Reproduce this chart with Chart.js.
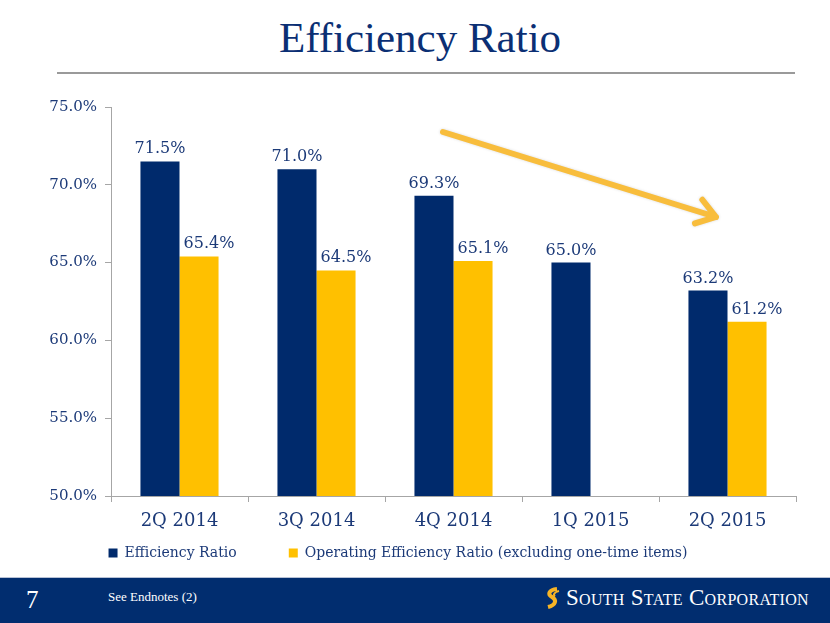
<!DOCTYPE html>
<html>
<head>
<meta charset="utf-8">
<script src="https://cdn.jsdelivr.net/npm/chart.js@4.4.0/dist/chart.umd.min.js"></script>
<style>
  body { margin: 0; width: 830px; height: 623px; background: #fff; position: relative; overflow: hidden; font-family: "DejaVu Serif", serif; }
  #title { position: absolute; top: 13px; left: 0; width: 840px; text-align: center; font-family: "Liberation Serif", serif; font-size: 43px; color: #0b2f74; }
  #rule { position: absolute; top: 72px; left: 57px; width: 738px; height: 2px; background: #9a9a9a; }
  #footer { position: absolute; top: 577px; left: 0; width: 830px; height: 46px; background: #012d6f; border-top: 1px solid #b8c2d6; }
  #pg { position: absolute; left: 26px; top: 8px; color: #fff; font-size: 25px; font-family: "Liberation Serif", serif; }
  #note { position: absolute; left: 108px; top: 11px; color: #fff; font-size: 13px; font-family: "Liberation Serif", serif; }
  #logo { position: absolute; left: 544px; top: 7px; color: #fff; font-size: 23px; font-family: "Liberation Serif", serif; font-variant: small-caps; letter-spacing: 0.3px; white-space: nowrap; }
  #logo svg { vertical-align: -4px; margin-right: 5px; }
  #wrap { position: absolute; top: 90px; left: 0; width: 830px; height: 480px; }
</style>
</head>
<body>
<div id="title">Efficiency Ratio</div>
<div id="rule"></div>
<div id="footer">
  <div id="pg">7</div>
  <div id="note">See Endnotes (2)</div>
  <div id="logo"><svg width="17" height="22" viewBox="0 0 17 22"><path d="M13 2 C5 3 3 7 8 10 C13 13 12 18 4 20" stroke="#f6b426" stroke-width="4" fill="none"/><path d="M15 4 C10 5 9 8 11 9.5" stroke="#f6b426" stroke-width="2" fill="none"/></svg>South State Corporation</div>
</div>
<div id="wrap"><canvas id="chart"></canvas></div>
<script>
const quarters = ['2Q 2014', '3Q 2014', '4Q 2014', '1Q 2015', '2Q 2015'];
const efficiencyRatio = [71.5, 71.0, 69.3, 65.0, 63.2];
const operatingRatio = [65.4, 64.5, 65.1, null, 61.2];
const yTicks = [50, 55, 60, 65, 70, 75];

const navy = '#002a6c';
const gold = '#ffc000';
const textBlue = '#1c3a78';

// value labels above the bars (gold ones sit a little to the right, like the slide)
const barLabels = {
  id: 'barLabels',
  afterDatasetsDraw(chart) {
    const ctx = chart.ctx;
    ctx.save();
    ctx.font = '16px "DejaVu Serif", serif';
    ctx.fillStyle = textBlue;
    ctx.textAlign = 'center';
    ctx.textBaseline = 'alphabetic';
    chart.data.datasets.forEach((ds, i) => {
      const dx = i === 1 ? 10 : 0;
      chart.getDatasetMeta(i).data.forEach((bar, j) => {
        if (ds.data[j] == null) return;
        ctx.fillText(ds.data[j].toFixed(1) + '%', bar.x + dx, bar.y - 8);
      });
    });
    ctx.restore();
  }
};

// the trend arrow over the chart
const trendArrow = {
  id: 'trendArrow',
  afterDraw(chart) {
    const ctx = chart.ctx;
    const x0 = 443, y0 = 42, x1 = 716, y1 = 127;
    ctx.save();
    ctx.strokeStyle = '#f8bd3c';
    ctx.lineWidth = 6;
    ctx.lineCap = 'round';
    ctx.lineJoin = 'round';
    ctx.shadowColor = 'rgba(0,0,0,0.15)';
    ctx.shadowBlur = 3;
    ctx.beginPath();
    ctx.moveTo(x0, y0);
    ctx.lineTo(x1, y1);
    const a = Math.atan2(y1 - y0, x1 - x0);
    ctx.moveTo(x1 - 22 * Math.cos(a - 0.6), y1 - 22 * Math.sin(a - 0.6));
    ctx.lineTo(x1, y1);
    ctx.lineTo(x1 - 22 * Math.cos(a + 0.6), y1 - 22 * Math.sin(a + 0.6));
    ctx.stroke();
    ctx.restore();
  }
};

new Chart(document.getElementById('chart'), {
  type: 'bar',
  data: {
    labels: quarters,
    datasets: [
      { label: 'Efficiency Ratio', data: efficiencyRatio, backgroundColor: navy },
      { label: 'Operating Efficiency Ratio (excluding one-time items)', data: operatingRatio, backgroundColor: gold }
    ]
  },
  options: {
    responsive: true,
    maintainAspectRatio: false,
    animation: false,
    layout: { padding: { top: 17, right: 34, left: 0, bottom: 0 } },
    categoryPercentage: 0.57,
    barPercentage: 1.0,
    plugins: {
      tooltip: { enabled: false },
      legend: {
        position: 'bottom',
        labels: {
          boxWidth: 9,
          boxHeight: 9,
          padding: 12,
          color: textBlue,
          font: { family: '"DejaVu Serif", serif', size: 14 },
          // widen the first entry so the gap between the two items matches the slide
          generateLabels(chart) {
            const items = Chart.defaults.plugins.legend.labels.generateLabels(chart);
            items[0].text = items[0].text + '         ';
            return items;
          }
        }
      }
    },
    scales: {
      x: {
        grid: { display: true, drawOnChartArea: false, drawTicks: true, tickLength: 6, color: '#a6a6a6' },
        border: { color: '#a6a6a6' },
        ticks: { color: textBlue, font: { family: '"DejaVu Serif", serif', size: 18 }, padding: 9 },
        afterFit(s) { s.height = 38; }
      },
      y: {
        min: 50,
        max: 75,
        afterBuildTicks(s) { s.ticks = yTicks.map(v => ({ value: v })); },
        grid: { display: true, drawOnChartArea: false, tickLength: 6, color: '#a6a6a6' },
        border: { color: '#a6a6a6' },
        ticks: {
          color: textBlue,
          font: { family: '"DejaVu Serif", serif', size: 15 },
          padding: 8,
          callback: v => v.toFixed(1) + '%'
        },
        afterFit(s) { s.width = 111; }
      }
    }
  },
  plugins: [barLabels, trendArrow]
});
</script>
</body>
</html>
